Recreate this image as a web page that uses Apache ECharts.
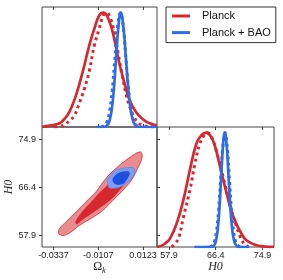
<!DOCTYPE html>
<html><head><meta charset="utf-8">
<script src="https://cdn.jsdelivr.net/npm/echarts@6/dist/echarts.min.js"></script>
<style>html,body{margin:0;padding:0;background:#fff}#c{width:283px;height:280px}</style>
</head><body><div id="c"></div>
<script>
// ---- tick labels ----
const omegaTicks = [-0.0337, -0.0107, 0.0123];
const h0Ticks = [57.9, 66.4, 74.9];
const seriesNames = ['Planck', 'Planck + BAO'];

// ---- 1D posterior of Omega_k: [Omega_k, density] ----
const omegaRedSolid = [[-0.0396,0.002],[-0.0357,0.012],[-0.0306,0.032],[-0.0281,0.07],[-0.0255,0.133],[-0.0221,0.279],[-0.0187,0.482],[-0.0153,0.715],[-0.0127,0.86],[-0.0102,0.976],[-0.0080,1.0],[-0.0051,0.93],[-0.0025,0.773],[0.0000,0.569],[0.0026,0.395],[0.0051,0.25],[0.0086,0.133],[0.0128,0.061],[0.0154,0.035],[0.0195,0.012]];
const omegaRedDotted = [[-0.0332,0.0],[-0.0306,0.007],[-0.0281,0.019],[-0.0255,0.055],[-0.0230,0.099],[-0.0204,0.21],[-0.0179,0.33],[-0.0153,0.49],[-0.0127,0.715],[-0.0102,0.86],[-0.0081,0.976],[-0.0065,1.0],[-0.0046,0.957],[-0.0025,0.827],[-0.0005,0.645],[0.0016,0.455],[0.0036,0.289],[0.0057,0.166],[0.0077,0.086],[0.0097,0.04],[0.0118,0.017],[0.0143,0.005],[0.0179,0.0]];
const omegaBlueSolid = [[-0.0117,0],[-0.0075,0.002],[-0.0063,0.011],[-0.0051,0.044],[-0.0039,0.135],[-0.0027,0.325],[-0.0015,0.607],[-0.0003,0.883],[0.0009,1],[0.0022,0.883],[0.0035,0.607],[0.0048,0.325],[0.0061,0.135],[0.0074,0.044],[0.0087,0.011],[0.0100,0.002],[0.0195,0]];
const omegaBlueDotted = [[-0.0091,0.002],[-0.0077,0.011],[-0.0063,0.044],[-0.0049,0.135],[-0.0035,0.325],[-0.0021,0.607],[-0.0007,0.883],[0.0007,1],[0.0021,0.883],[0.0035,0.607],[0.0049,0.325],[0.0063,0.135],[0.0077,0.044],[0.0091,0.011],[0.0105,0.002]];

// ---- 1D posterior of H0: [H0, density] ----
const h0RedSolid = [[55.72,0.002],[56.57,0.012],[57.3,0.035],[58.08,0.073],[59.30,0.206],[60.52,0.412],[61.72,0.677],[62.94,0.912],[63.85,0.98],[64.63,1.0],[65.49,0.97],[66.27,0.883],[67.18,0.706],[68.40,0.47],[69.62,0.265],[71.44,0.088],[72.59,0.04],[73.86,0.015],[75.32,0.004],[77.0,0.001]];
const h0RedDotted = [[58.39,0.0],[58.99,0.03],[59.67,0.08],[60.52,0.26],[61.72,0.5],[62.63,0.73],[63.49,0.9],[64.40,0.985],[64.94,1.0],[65.67,0.96],[66.58,0.83],[68.09,0.545],[69.13,0.34],[70.22,0.175],[70.95,0.08],[71.73,0.02],[72.4,0.004]];
const h0BlueSolid = [[62.5,0],[65.74,0.002],[66.07,0.011],[66.40,0.044],[66.73,0.135],[67.06,0.325],[67.39,0.607],[67.72,0.883],[68.05,1],[68.40,0.883],[68.75,0.607],[69.10,0.325],[69.45,0.135],[69.80,0.044],[70.15,0.011],[70.50,0.002],[72.5,0]];
const h0BlueDotted = [[65.37,0.002],[65.76,0.011],[66.15,0.044],[66.54,0.135],[66.93,0.325],[67.32,0.607],[67.71,0.883],[68.10,1],[68.49,0.883],[68.88,0.607],[69.27,0.325],[69.66,0.135],[70.05,0.044],[70.44,0.011],[70.83,0.002]];

// ---- 2D contours: [Omega_k, H0] ----
const redOuter = [[0.0111,72.68],[0.0119,72.10],[0.0115,71.22],[0.0103,70.33],[0.0068,67.9],[0.0017,65.82],[-0.0034,64.06],[-0.0085,62.30],[-0.0136,61.11],[-0.0204,59.7],[-0.0255,58.35],[-0.0289,57.9],[-0.0310,58.25],[-0.0306,59.17],[-0.0272,60.33],[-0.0221,62.10],[-0.0170,63.86],[-0.0119,65.62],[-0.0068,67.99],[-0.0017,69.75],[0.0035,71.22],[0.0086,72.40]];
const redInner = [[-0.0224,60.45],[-0.0190,62.13],[-0.0139,64.0],[-0.0105,65.32],[-0.0062,66.73],[-0.0033,67.8],[-0.0003,68.75],[0.0024,69.40],[0.0046,69.10],[0.0047,68.13],[0.0021,66.68],[0.0000,65.80],[-0.0034,64.48],[-0.0068,63.51],[-0.0102,62.71],[-0.0136,61.92],[-0.0170,61.13],[-0.0204,60.24],[-0.0219,59.89]];
const blueOuter = [[-0.0059,67.16],[-0.0051,66.36],[-0.0025,66.28],[0.0000,66.45],[0.0026,66.89],[0.0051,67.51],[0.0072,68.39],[0.0082,69.28],[0.0077,69.80],[0.0062,69.93],[0.0026,69.84],[-0.0010,69.54],[-0.0035,68.92],[-0.0053,68.13],[-0.0061,67.60]];
const blueInner = [[-0.0034,67.69],[-0.0025,67.11],[-0.0010,66.89],[0.0009,66.93],[0.0026,67.16],[0.0038,67.69],[0.0049,68.31],[0.0055,68.87],[0.0049,69.24],[0.0043,69.28],[0.0021,69.24],[0.0009,69.15],[-0.0010,68.83],[-0.0020,68.57],[-0.0030,68.13]];

const RED = '#d7282f', RED_LIGHT = '#e98c90', BLUE = '#2f6ce8', BLUE_LIGHT = '#7c9df0', BLUE_DARK = '#1f4fdf';
const AX = '#444', TXT = '#222';
const FONT = 'Liberation Sans', SERIF = 'Liberation Serif';

const chart = echarts.init(document.getElementById('c'), null, {renderer: 'canvas'});

function lineS(name, data, color, dotted, xi, yi, z) {
  return {type: 'line', name, data, xAxisIndex: xi, yAxisIndex: yi, showSymbol: false, symbol: 'none',
    smooth: 0.45, silent: true, z,
    lineStyle: {color, width: dotted ? 3 : 2.7, type: dotted ? [3, 3.4] : 'solid', cap: 'butt'},
    itemStyle: {color}};
}
function polyS(name, pts, fill, stroke, z) {
  return {type: 'custom', name, xAxisIndex: 2, yAxisIndex: 1, silent: true, z,
    data: [[pts[0][0], pts[0][1]]],
    renderItem: (params, api) => ({type: 'polygon',
      shape: {points: pts.map(p => api.coord(p)), smooth: 0.3},
      style: {fill, stroke: stroke || null, lineWidth: stroke ? 0.8 : 0}})};
}
const tickStyle = {lineStyle: {color: AX, width: 1}};
const labelStyle = {color: TXT, fontFamily: FONT, fontSize: 9};
const noLine = {show: false, onZero: false};
const OMIN = -0.0396, OMAX = 0.0195;
const HYMIN = 55.9, HYMAX = 77.07;
const HXMIN = 55.72, HXMAX = 77.01;

chart.setOption({
  animation: false,
  backgroundColor: '#fff',
  grid: [
    {left: 42, top: 7, width: 115, height: 120, show: true, borderColor: AX, borderWidth: 1, backgroundColor: 'transparent'},
    {left: 42, top: 127, width: 115, height: 120, show: true, borderColor: AX, borderWidth: 1, backgroundColor: 'transparent'},
    {left: 157, top: 127, width: 117, height: 120, show: true, borderColor: AX, borderWidth: 1, backgroundColor: 'transparent'}
  ],
  xAxis: [
    {gridIndex: 0, type: 'value', min: OMIN, max: OMAX, position: 'bottom', axisLine: noLine,
      axisTick: Object.assign({show: true, inside: true, length: 3, customValues: omegaTicks}, tickStyle),
      axisLabel: {show: false}, splitLine: {show: false}},
    {gridIndex: 0, type: 'value', min: OMIN, max: OMAX, position: 'top', axisLine: noLine,
      axisTick: Object.assign({show: true, inside: true, length: 3, customValues: omegaTicks}, tickStyle),
      axisLabel: {show: false}, splitLine: {show: false}},
    {gridIndex: 1, type: 'value', min: OMIN, max: OMAX, position: 'bottom', axisLine: noLine,
      axisTick: Object.assign({show: true, inside: false, length: 3, customValues: omegaTicks}, tickStyle),
      axisLabel: Object.assign({show: true, margin: 4, customValues: omegaTicks, formatter: v => String(v)}, labelStyle),
      splitLine: {show: false},
      name: '{o|Ω}{k|k}', nameLocation: 'middle', nameGap: 11,
      nameTextStyle: {color: TXT, rich: {
        o: {fontFamily: SERIF, fontSize: 12, color: TXT, lineHeight: 14, verticalAlign: 'top'},
        k: {fontFamily: SERIF, fontStyle: 'italic', fontSize: 8.5, color: TXT, lineHeight: 14, padding: [5, 0, 0, 0]}}}},
    {gridIndex: 2, type: 'value', min: HXMIN, max: HXMAX, position: 'bottom', axisLine: noLine,
      axisTick: Object.assign({show: true, inside: false, length: 3, customValues: h0Ticks}, tickStyle),
      axisLabel: Object.assign({show: true, margin: 4, customValues: h0Ticks, formatter: v => String(v)}, labelStyle),
      splitLine: {show: false},
      name: 'H0', nameLocation: 'middle', nameGap: 14,
      nameTextStyle: {color: TXT, fontFamily: SERIF, fontStyle: 'italic', fontSize: 12}},
    {gridIndex: 2, type: 'value', min: HXMIN, max: HXMAX, position: 'top', axisLine: noLine,
      axisTick: Object.assign({show: true, inside: true, length: 3, customValues: h0Ticks}, tickStyle),
      axisLabel: {show: false}, splitLine: {show: false}}
  ],
  yAxis: [
    {gridIndex: 0, type: 'value', min: 0, max: 1.05, show: false, axisLine: noLine},
    {gridIndex: 1, type: 'value', min: HYMIN, max: HYMAX, position: 'left', axisLine: noLine,
      axisTick: Object.assign({show: true, inside: false, length: 3, customValues: h0Ticks}, tickStyle),
      axisLabel: Object.assign({show: true, margin: 6, customValues: h0Ticks, formatter: v => String(v)}, labelStyle),
      splitLine: {show: false},
      name: 'H0', nameLocation: 'middle', nameGap: 22,
      nameTextStyle: {color: TXT, fontFamily: SERIF, fontStyle: 'italic', fontSize: 12}},
    {gridIndex: 2, type: 'value', min: 0, max: 1.05, show: false, position: 'right', axisLine: noLine},
    {gridIndex: 2, type: 'value', min: HYMIN, max: HYMAX, position: 'left', axisLine: noLine,
      axisTick: Object.assign({show: true, inside: true, length: 3, customValues: h0Ticks}, tickStyle),
      axisLabel: {show: false}, splitLine: {show: false}}
  ],
  legend: {
    orient: 'vertical', left: 166, top: 7, padding: [2, 5, 3, 6], itemGap: 2.6,
    itemWidth: 18, itemHeight: 3, icon: 'rect', borderColor: '#333', borderWidth: 1, borderRadius: 0,
    backgroundColor: '#fff', selectedMode: false,
    textStyle: {fontFamily: FONT, fontSize: 11, color: '#111', lineHeight: 14, padding: [0, 0, 0, 7]},
    data: [{name: seriesNames[0], itemStyle: {color: RED}}, {name: seriesNames[1], itemStyle: {color: BLUE}}]
  },
  series: [
    lineS(seriesNames[0], omegaRedSolid, RED, false, 0, 0, 2),
    lineS(seriesNames[0], omegaRedDotted, RED, true, 0, 0, 3),
    lineS(seriesNames[1], omegaBlueSolid, BLUE, false, 0, 0, 4),
    lineS(seriesNames[1], omegaBlueDotted, BLUE, true, 0, 0, 5),
    lineS(seriesNames[0], h0RedSolid, RED, false, 3, 2, 2),
    lineS(seriesNames[0], h0RedDotted, RED, true, 3, 2, 3),
    lineS(seriesNames[1], h0BlueSolid, BLUE, false, 3, 2, 4),
    lineS(seriesNames[1], h0BlueDotted, BLUE, true, 3, 2, 5),
    polyS(seriesNames[0], redOuter, RED_LIGHT, RED, 2),
    polyS(seriesNames[0], redInner, RED, null, 3),
    polyS(seriesNames[1], blueOuter, BLUE_LIGHT, '#5f88ee', 4),
    polyS(seriesNames[1], blueInner, BLUE_DARK, null, 5)
  ]
});
</script></body></html>
